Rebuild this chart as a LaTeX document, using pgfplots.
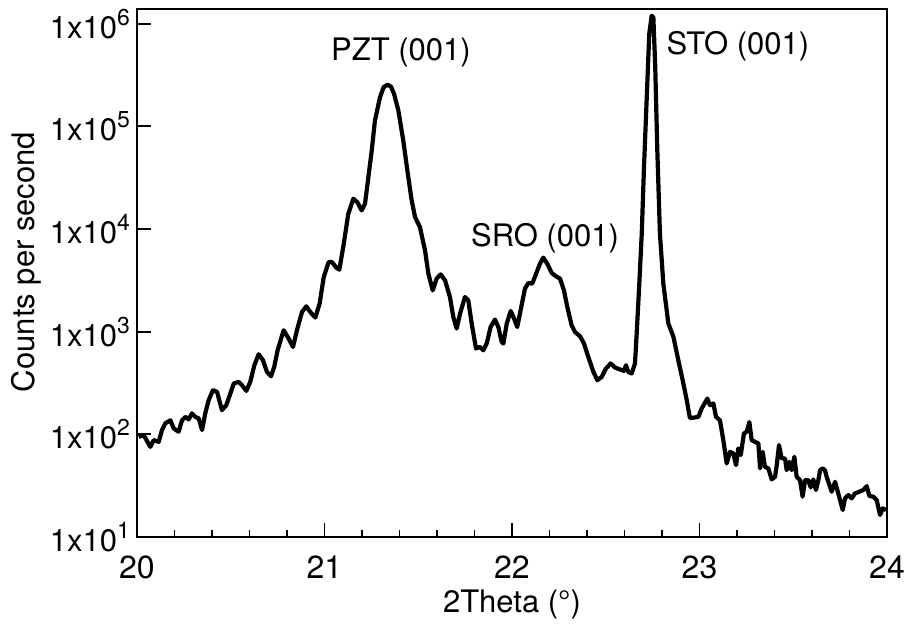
\documentclass[border=0pt]{standalone}
\usepackage{fontspec}
\setmainfont{TeX Gyre Heros}
\usepackage{pgfplots}
\pgfplotsset{compat=1.18}
\pgfplotstableread{
x y
20.009 94.6
20.036 98.2
20.071 75.5
20.089 87.9
20.116 84.5
20.133 110
20.151 128
20.178 137
20.196 114
20.222 106
20.240 137
20.258 148
20.276 140
20.293 160
20.311 148
20.329 143
20.347 110
20.364 160
20.382 215
20.405 269
20.427 259
20.453 172
20.476 192
20.498 250
20.516 313
20.542 324
20.560 301
20.583 265
20.604 324
20.626 471
20.649 603
20.672 527
20.693 406
20.715 368
20.732 454
20.750 659
20.782 1032
20.809 857
20.832 710
20.853 1032
20.880 1555
20.903 1766
20.924 1555
20.951 1371
20.974 1876
20.996 3405
21.022 4764
21.040 4764
21.063 4200
21.079 4018
21.100 6668
21.127 14090
21.154 19720
21.175 18280
21.198 15170
21.216 17620
21.234 31990
21.252 58210
21.269 113800
21.296 191900
21.315 240000
21.336 255000
21.355 243000
21.371 207000
21.394 142600
21.420 72780
21.442 37150
21.465 18970
21.483 13060
21.509 10440
21.536 6194
21.554 3673
21.577 2528
21.598 3287
21.620 3614
21.643 3162
21.669 2177
21.687 1390
21.705 1072
21.723 1500
21.749 2177
21.767 2019
21.785 1199
21.808 685
21.829 710
21.847 659
21.865 766
21.886 1111
21.909 1312
21.927 1111
21.945 794
21.954 766
21.972 1199
21.993 1589
22.011 1340
22.028 1111
22.046 1615
22.069 2626
22.087 2978
22.108 2938
22.132 3809
22.149 4592
22.167 5260
22.188 4592
22.212 3724
22.235 3459
22.256 3287
22.277 2528
22.295 1738
22.318 1153
22.336 993
22.363 902
22.384 766
22.407 567
22.434 406
22.455 337
22.478 362
22.501 437
22.526 490
22.549 448
22.576 428
22.597 415
22.608 471
22.620 406
22.638 391
22.656 490
22.665 959
22.679 2938
22.692 8995
22.704 40000
22.718 178200
22.732 794000
22.745 1197000
22.754 1151000
22.764 375900
22.775 58210
22.789 8995
22.807 2938
22.834 1199
22.861 888
22.887 527
22.914 313
22.932 215
22.949 144
22.976 146
22.994 148
23.012 179
23.042 223
23.056 192
23.074 200
23.088 148
23.109 137
23.127 87.9
23.145 52.1
23.163 67.6
23.180 65.2
23.195 50.1
23.207 72.9
23.220 62.8
23.237 102
23.252 106
23.266 132
23.278 87.9
23.296 84.5
23.314 81.5
23.323 46.6
23.337 67.6
23.349 48.3
23.367 46.6
23.385 36.4
23.403 38.6
23.412 50.1
23.424 78.5
23.438 58.3
23.456 58.3
23.465 44.8
23.479 54.0
23.492 44.8
23.506 60.4
23.518 38.6
23.536 35.8
23.550 24.7
23.563 35.8
23.580 35.8
23.593 30.4
23.607 36.4
23.621 28.7
23.634 35.8
23.643 44.8
23.657 46.6
23.669 44.8
23.678 38.6
23.705 27.6
23.723 34.5
23.740 26.6
23.764 18.3
23.776 23.8
23.794 25.6
23.812 23.8
23.829 26.6
23.852 27.6
23.874 28.7
23.892 31.3
23.906 25.1
23.927 24.7
23.945 22.9
23.963 16.4
23.977 19.0
23.995 18.3
}\xrd
\begin{document}
\begin{tikzpicture}[font=\fontsize{15.5}{18}\selectfont]
\begin{axis}[
  name=ax,
  width=375pt, height=264pt, scale only axis,
  xmin=20, xmax=24,
  ymode=log, log basis y=10,
  ymin=10, ymax=1.39e6,
  xtick={20,21,22,23,24},
  minor x tick num=4,
  ytick={10,100,1000,10000,100000,1000000},
  yticklabel={1x10\raisebox{0.8ex}{\fontsize{11.5}{12}\selectfont\pgfmathparse{int(round(\tick))}\pgfmathresult}},
  xticklabel style={/pgf/number format/assume math mode=true, font=\fontsize{16}{18}\selectfont, yshift=-6pt},
  xtick pos=bottom, ytick pos=left,
  tick align=inside,
  major tick length=7pt, minor tick length=3.5pt,
  every tick/.style={black, line width=0.9pt},
  axis line style={line width=1.2pt},
  xlabel={2Theta (°)},
  ylabel={Counts per second},
  xlabel style={at={(axis description cs:0.5,-0.127)}, anchor=center},
  ylabel style={at={(axis description cs:-0.148,0.521)}, anchor=center},
  clip=true,
]
\addplot[black, line width=2.1pt, line join=round] table[x=x,y=y] {\xrd};
\node at (axis cs:21.408,5.2e5) {PZT (001)};
\node at (axis cs:22.176,8110) {SRO (001)};
\node at (axis cs:23.205,6.1e5) {STO (001)};
\end{axis}
\pgfresetboundingbox
\path ([xshift=-68.5pt,yshift=-45pt]ax.south west) rectangle ([xshift=9.5pt,yshift=4.5pt]ax.north east);
\end{tikzpicture}
\end{document}
